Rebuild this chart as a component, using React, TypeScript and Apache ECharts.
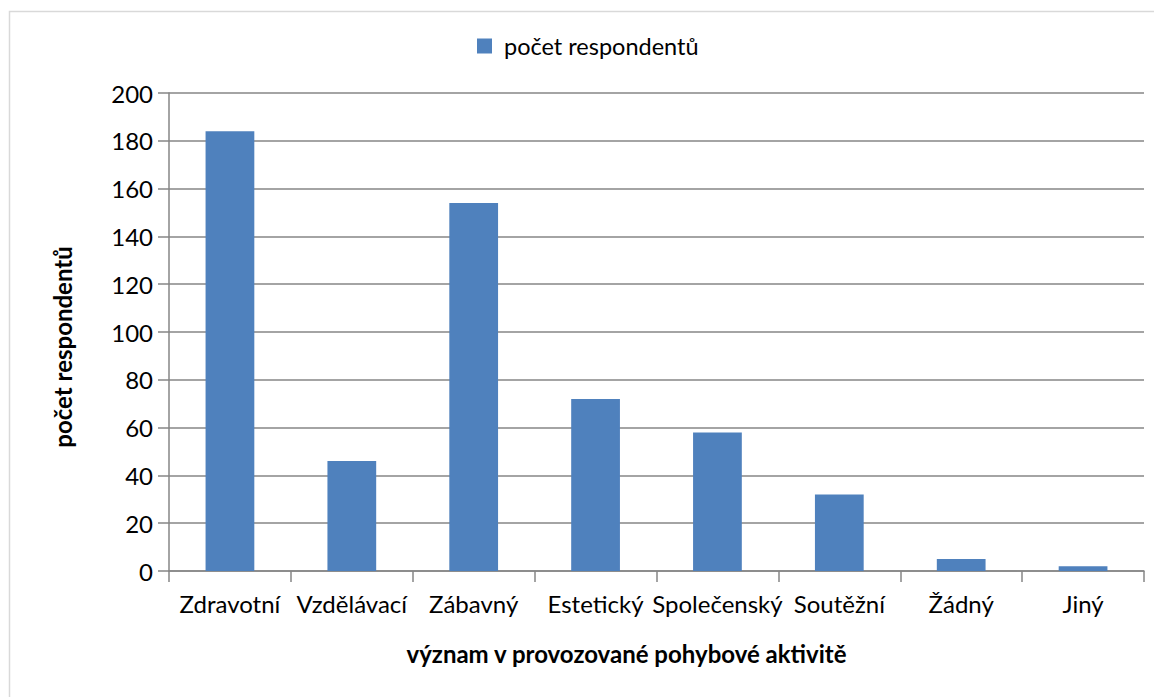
import React, { useEffect, useRef } from "react";
import * as echarts from "echarts";

const categories = ["Zdravotní", "Vzdělávací", "Zábavný", "Estetický", "Společenský", "Soutěžní", "Žádný", "Jiný"];
const values = [184, 46, 154, 72, 58, 32, 5, 2];
const seriesName = "počet respondentů";
const xAxisName = "význam v provozované pohybové aktivitě";
const yAxisName = "počet respondentů";

const FONT = "Lato, 'Open Sans', sans-serif";

export default function App() {
  const ref = useRef<HTMLDivElement>(null);
  useEffect(() => {
    if (!ref.current) return;
    const chart = echarts.init(ref.current, null, { renderer: "svg" });
    chart.setOption({
      animation: false,
      backgroundColor: "#ffffff",
      textStyle: { fontFamily: FONT },
      graphic: [
        {
          type: "rect",
          shape: { x: 9.5, y: 11.5, width: 1160, height: 700 },
          style: { fill: "none", stroke: "#d9d9d9", lineWidth: 1.5 },
          silent: true,
        },
      ],
      legend: {
        top: 29,
        left: 472,
        itemWidth: 15,
        itemHeight: 15,
        itemGap: 10,
        icon: "rect",
        textStyle: { fontSize: 23.5, color: "#000", fontFamily: FONT, padding: [0, 0, 0, 7] },
        data: [seriesName],
      },
      grid: { left: 169, right: 10, top: 93, bottom: 126 },
      xAxis: {
        type: "category",
        data: categories,
        name: xAxisName,
        nameLocation: "middle",
        nameGap: 70,
        nameTextStyle: { fontSize: 24, fontWeight: "bold", color: "#000", fontFamily: FONT, padding: [0, 60, 0, 0] },
        axisLine: { lineStyle: { color: "#868686", width: 1.5 } },
        axisTick: { show: true, length: 11, alignWithLabel: false, lineStyle: { color: "#868686", width: 1.5 } },
        axisLabel: { fontSize: 24, color: "#000", margin: 20, fontFamily: FONT, interval: 0 },
        splitLine: { show: false },
      },
      yAxis: {
        type: "value",
        min: 0,
        max: 200,
        interval: 20,
        name: yAxisName,
        nameLocation: "middle",
        nameGap: 95,
        nameTextStyle: { fontSize: 24, fontWeight: "bold", color: "#000", fontFamily: FONT, padding: [0, 30, 0, 0] },
        axisLine: { show: true, lineStyle: { color: "#868686", width: 1.5 } },
        axisTick: { show: true, length: 11, inside: false, lineStyle: { color: "#868686", width: 1.5 } },
        axisLabel: { fontSize: 24, color: "#000", margin: 16, fontFamily: FONT },
        splitLine: { show: true, lineStyle: { color: "#868686", width: 1.5 } },
      },
      series: [
        {
          name: seriesName,
          type: "bar",
          data: values,
          barWidth: "40%",
          itemStyle: { color: "#4f81bd" },
        },
      ],
    });
    return () => chart.dispose();
  }, []);
  return (
    <div
      ref={ref}
      style={{ position: "absolute", left: 0, top: 0, width: 1154, height: 697 }}
    />
  );
}
